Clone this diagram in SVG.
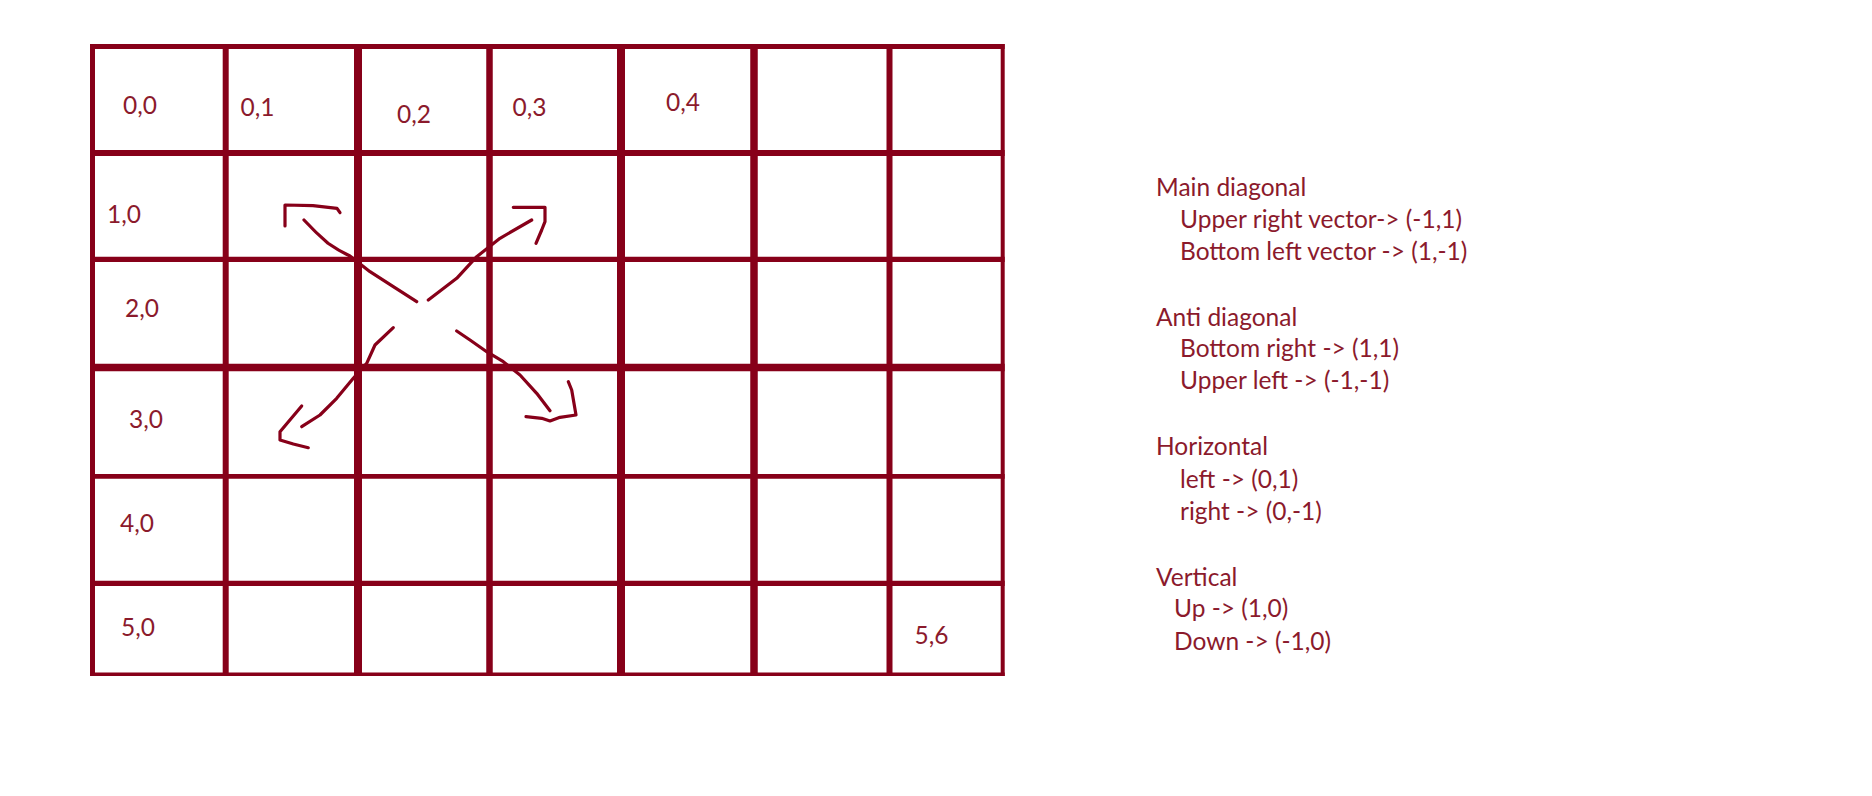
<svg xmlns="http://www.w3.org/2000/svg" width="1872" height="796" viewBox="0 0 1872 796">
<style>
.g{stroke:#870019;fill:none}
.lbl{font-family:Lato,"Liberation Sans",sans-serif;font-size:24.5px;fill:#8b1a2c}
.leg{font-family:Lato,"Liberation Sans",sans-serif;font-size:24.5px;fill:#8b1a2c}
.hand{stroke:#870019;stroke-width:3.2;fill:none;stroke-linecap:round;stroke-linejoin:round}
</style>
<rect width="1872" height="796" fill="#fff"/>
<g id="grid">
<line class="g" x1="92.5" y1="44" x2="92.5" y2="676" stroke-width="5"/>
<line class="g" x1="225.7" y1="44" x2="225.7" y2="676" stroke-width="6"/>
<line class="g" x1="358" y1="44" x2="358" y2="676" stroke-width="8"/>
<line class="g" x1="489.5" y1="44" x2="489.5" y2="676" stroke-width="6.5"/>
<line class="g" x1="621" y1="44" x2="621" y2="676" stroke-width="8"/>
<line class="g" x1="754" y1="44" x2="754" y2="676" stroke-width="7.5"/>
<line class="g" x1="889.5" y1="44" x2="889.5" y2="676" stroke-width="6"/>
<line class="g" x1="1002.7" y1="44" x2="1002.7" y2="676" stroke-width="4"/>
<line class="g" x1="90" y1="46.5" x2="1004.7" y2="46.5" stroke-width="5"/>
<line class="g" x1="90" y1="153" x2="1004.7" y2="153" stroke-width="6"/>
<line class="g" x1="90" y1="259.3" x2="1004.7" y2="259.3" stroke-width="5.3"/>
<line class="g" x1="90" y1="367.5" x2="1004.7" y2="367.5" stroke-width="7.5"/>
<line class="g" x1="90" y1="476.3" x2="1004.7" y2="476.3" stroke-width="4.7"/>
<line class="g" x1="90" y1="583.3" x2="1004.7" y2="583.3" stroke-width="5.3"/>
<line class="g" x1="90" y1="674.3" x2="1004.7" y2="674.3" stroke-width="3.5"/>
</g>
<g id="cell-0-0"><text class="lbl" x="123" y="114">0,0</text></g>
<g id="cell-0-1"><text class="lbl" x="240.5" y="116">0,1</text></g>
<g id="cell-0-2"><text class="lbl" x="397" y="122.5">0,2</text></g>
<g id="cell-0-3"><text class="lbl" x="512.5" y="116">0,3</text></g>
<g id="cell-0-4"><text class="lbl" x="666" y="111">0,4</text></g>
<g id="cell-1-0"><text class="lbl" x="107" y="223">1,0</text></g>
<g id="cell-2-0"><text class="lbl" x="125" y="317">2,0</text></g>
<g id="cell-3-0"><text class="lbl" x="129" y="428">3,0</text></g>
<g id="cell-4-0"><text class="lbl" x="120" y="532">4,0</text></g>
<g id="cell-5-0"><text class="lbl" x="121" y="636">5,0</text></g>
<g id="cell-5-6"><text class="lbl" x="914.5" y="644">5,6</text></g>
<g id="connectors">
<path class="hand" d="M285,226 L285,205 L313,205.7 L337,208.3 L340,212.7"/>
<path class="hand" d="M304,220 Q316,233 328,243.3 Q339,251 350,256 L370,271.7 L393.3,286.7 L416.7,301.7"/>
<path class="hand" d="M513.3,207.3 L545,207.3 L545,221.7 L541.7,230 L536,243.3"/>
<path class="hand" d="M428.3,300 L456.7,278.3 L476.7,256.7 L500,238.3 L531.7,220"/>
<path class="hand" d="M393.3,327.7 L375,345 L366.7,363.3 L353.3,378.3 L336.7,398.3 L320,415 L301.7,426.7"/>
<path class="hand" d="M301.7,406 L280,431.7 L280,440 L293.3,444 L308.3,447.7"/>
<path class="hand" d="M456.7,331 L470,340 L486.7,351.7 L503.3,361.7 L520,375 L536.7,393.3 L550,410.7"/>
<path class="hand" d="M568.3,381.7 L571.7,390 L576,415 L560,417.3 L550,421 L541.7,418.3 L526,416.7"/>
</g>
<g id="legend">
<text class="leg" x="1156" y="196">Main diagonal</text>
<text class="leg" x="1180" y="228">Upper right vector-&gt; (-1,1)</text>
<text class="leg" x="1180" y="260">Bottom left vector -&gt; (1,-1)</text>
<text class="leg" x="1156" y="325.5">Anti diagonal</text>
<text class="leg" x="1180" y="356.5">Bottom right -&gt; (1,1)</text>
<text class="leg" x="1180" y="389">Upper left -&gt; (-1,-1)</text>
<text class="leg" x="1156" y="455">Horizontal</text>
<text class="leg" x="1180" y="488">left -&gt; (0,1)</text>
<text class="leg" x="1180" y="520">right -&gt; (0,-1)</text>
<text class="leg" x="1156" y="585.5">Vertical</text>
<text class="leg" x="1174" y="617">Up -&gt; (1,0)</text>
<text class="leg" x="1174" y="650">Down -&gt; (-1,0)</text>
</g>
</svg>
